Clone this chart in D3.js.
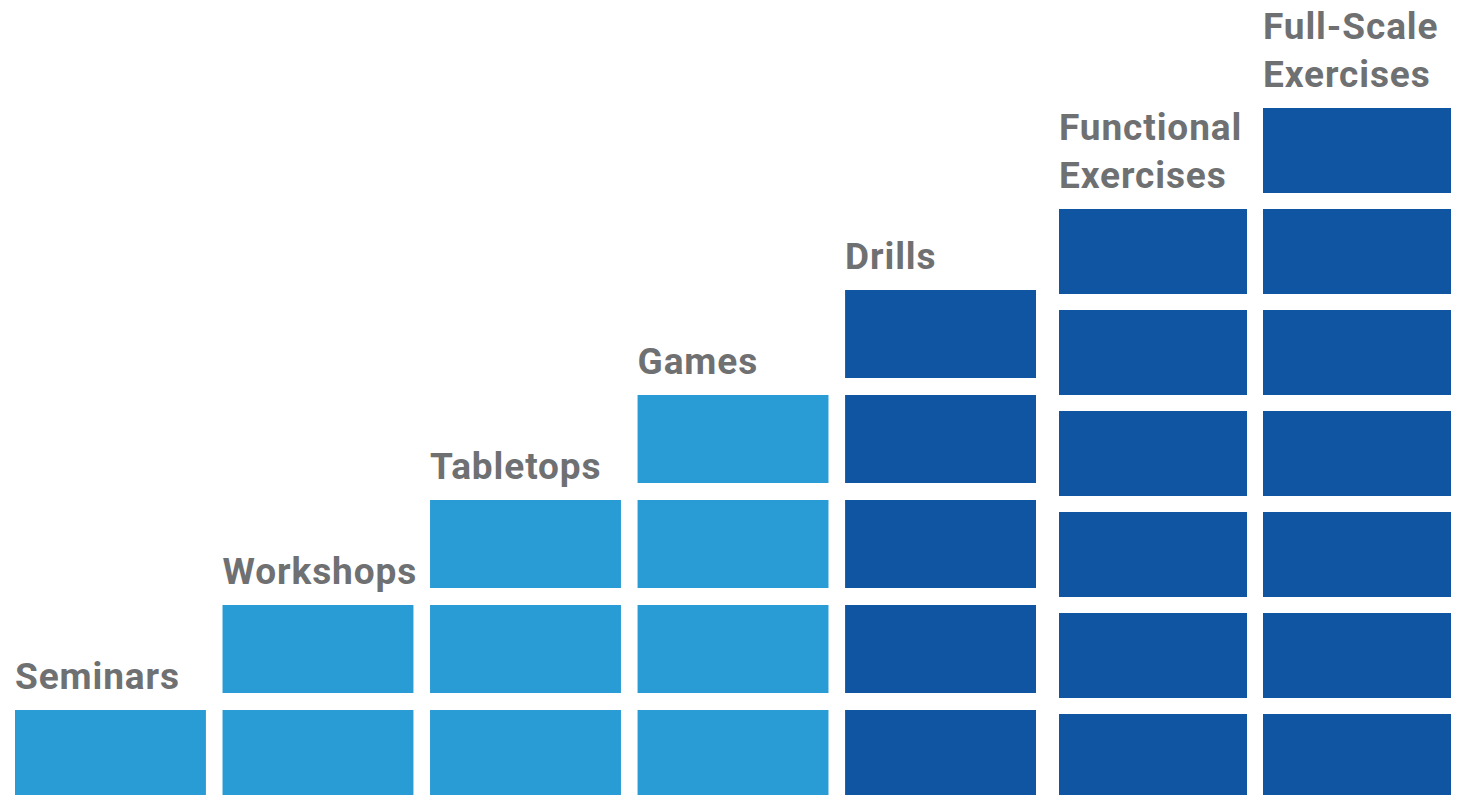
<!DOCTYPE html>
<html>
<head>
<meta charset="utf-8">
<script src="https://cdn.jsdelivr.net/npm/d3@7"></script>
<style>
  html, body { margin: 0; padding: 0; background: #fff; }
  svg { display: block; }
</style>
</head>
<body>
<svg id="chart" width="1465" height="795"></svg>
<script>
// exercise types, with how many blocks each one stacks up
var labels = [['Seminars'], ['Workshops'], ['Tabletops'], ['Games'], ['Drills'],
              ['Functional', 'Exercises'], ['Full-Scale', 'Exercises']]
var levels = [1, 2, 3, 4, 5, 6, 7]
var kinds = ['discussion', 'discussion', 'discussion', 'discussion', 'operations', 'operations', 'operations']

var W = 1465, H = 795
var svg = d3.select('#chart')

var colour = d3.scaleOrdinal().domain(['discussion', 'operations']).range(['#2a9cd5', '#1055a1'])

var idx = d3.range(labels.length)
var leftIdx = idx.slice(0, 5), rightIdx = idx.slice(5)

// the two right columns sit on a slightly tighter grid in the original
var xLeft = d3.scaleBand().domain(leftIdx).range([15, 1036]).paddingInner(0.08)
var xRight = d3.scaleBand().domain(rightIdx).range([1059, 1451]).paddingInner(0.0784)
var yLeft = d3.scaleLinear().domain([0, 7]).range([815, 80])
var yRight = d3.scaleLinear().domain([0, 7]).range([815, 108])

function xOf(i) { return i < 5 ? xLeft(i) : xRight(i) }
function bwOf(i) { return i < 5 ? xLeft.bandwidth() : xRight.bandwidth() }
function yOf(i) { return i < 5 ? yLeft : yRight }

var blocks = []
idx.forEach(function(i) {
	d3.range(1, levels[i] + 1).forEach(function(k) { blocks.push({col: i, k: k}) })
})

svg.selectAll('rect.block')
	.data(blocks)
	.enter()
	.append('rect')
	.attr('class', 'block')
	.attr('x', function(d) { return xOf(d.col) })
	.attr('width', function(d) { return bwOf(d.col) })
	.attr('y', function(d) { return yOf(d.col)(d.k) })
	.attr('height', function(d) {
		var y = yOf(d.col)
		var gap = d.col < 5 ? 17 : 16
		return y(d.k - 1) - y(d.k) - gap
	})
	.attr('fill', function(d) { return colour(kinds[d.col]) })

// category labels above each column
var lab = svg.selectAll('text.label')
	.data(idx)
	.enter()
	.append('text')
	.attr('class', 'label')
	.attr('x', function(i) { return xOf(i) })
	.attr('y', function(i) { return yOf(i)(levels[i]) - 21 })
	.attr('font-family', 'Roboto, "Open Sans", sans-serif')
	.attr('font-weight', 700)
	.attr('font-size', 37)
	.attr('letter-spacing', 0.9)
	.attr('fill', '#6f7072')

lab.each(function(i) {
	var t = d3.select(this), lines = labels[i]
	lines.forEach(function(s, j) {
		t.append('tspan')
			.attr('x', xOf(i))
			.attr('dy', j === 0 ? -(lines.length - 1) * 48 : 48)
			.text(s)
	})
})
</script>
</body>
</html>
